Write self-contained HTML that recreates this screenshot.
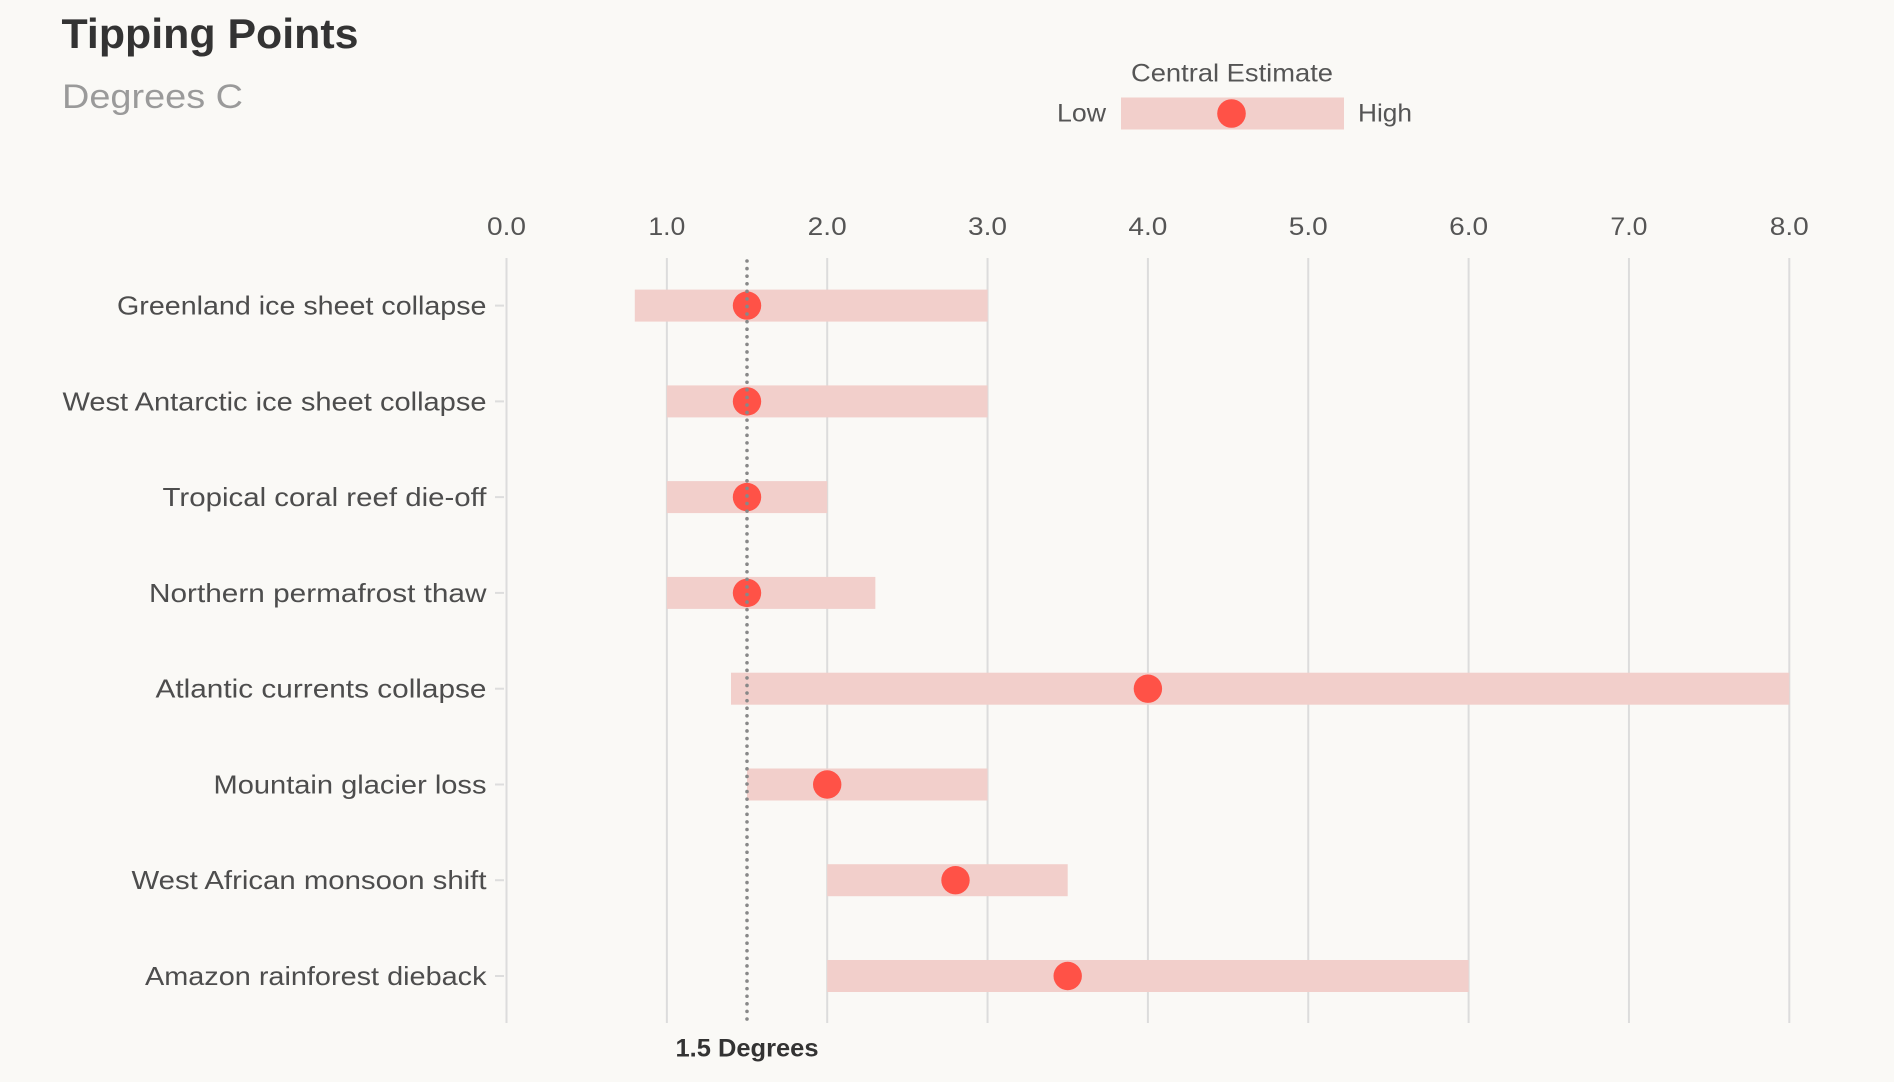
<!DOCTYPE html>
<html>
<head>
<meta charset="utf-8">
<style>
  html, body { margin: 0; padding: 0; background: #faf9f6; }
  svg { display: block; }
  text { font-family: "Liberation Sans", "DejaVu Sans", sans-serif; }
</style>
</head>
<body>
<svg width="1894" height="1082" viewBox="0 0 1894 1082" xmlns="http://www.w3.org/2000/svg">
  <rect x="0" y="0" width="1894" height="1082" fill="#faf9f6"/>

  <!-- Title -->
  <text x="61.5" y="48" font-size="42" font-weight="bold" fill="#333333" textLength="297" lengthAdjust="spacingAndGlyphs">Tipping Points</text>
  <text x="62" y="108" font-size="34" fill="#9a9a9a" textLength="181" lengthAdjust="spacingAndGlyphs">Degrees C</text>

  <!-- Legend -->
  <text x="1232" y="81.5" font-size="25" fill="#555555" text-anchor="middle" textLength="202" lengthAdjust="spacingAndGlyphs">Central Estimate</text>
  <rect x="1121" y="97.5" width="223" height="32" fill="#f2cfcb"/>
  <circle cx="1231.5" cy="113.5" r="14.3" fill="#ff5247"/>
  <text x="1057" y="121.5" font-size="25" fill="#555555" textLength="49" lengthAdjust="spacingAndGlyphs">Low</text>
  <text x="1358" y="121.5" font-size="25" fill="#555555" textLength="54" lengthAdjust="spacingAndGlyphs">High</text>

  <!-- Gridlines -->
  <g stroke="#dcdcdc" stroke-width="2">
    <line x1="506.5" y1="258" x2="506.5" y2="1023"/>
    <line x1="666.85" y1="258" x2="666.85" y2="1023"/>
    <line x1="827.2" y1="258" x2="827.2" y2="1023"/>
    <line x1="987.55" y1="258" x2="987.55" y2="1023"/>
    <line x1="1147.9" y1="258" x2="1147.9" y2="1023"/>
    <line x1="1308.25" y1="258" x2="1308.25" y2="1023"/>
    <line x1="1468.6" y1="258" x2="1468.6" y2="1023"/>
    <line x1="1628.95" y1="258" x2="1628.95" y2="1023"/>
    <line x1="1789.3" y1="258" x2="1789.3" y2="1023"/>
  </g>

  <!-- Tick labels -->
  <g font-size="25" fill="#555555" text-anchor="middle">
    <text x="506.5" y="235" textLength="39" lengthAdjust="spacingAndGlyphs">0.0</text>
    <text x="666.85" y="235" textLength="37" lengthAdjust="spacingAndGlyphs">1.0</text>
    <text x="827.2" y="235" textLength="39" lengthAdjust="spacingAndGlyphs">2.0</text>
    <text x="987.55" y="235" textLength="39" lengthAdjust="spacingAndGlyphs">3.0</text>
    <text x="1147.9" y="235" textLength="39" lengthAdjust="spacingAndGlyphs">4.0</text>
    <text x="1308.25" y="235" textLength="39" lengthAdjust="spacingAndGlyphs">5.0</text>
    <text x="1468.6" y="235" textLength="39" lengthAdjust="spacingAndGlyphs">6.0</text>
    <text x="1628.95" y="235" textLength="37" lengthAdjust="spacingAndGlyphs">7.0</text>
    <text x="1789.3" y="235" textLength="39" lengthAdjust="spacingAndGlyphs">8.0</text>
  </g>

  <!-- Row label ticks -->
  <g stroke="#dddddd" stroke-width="2">
    <line x1="495" y1="305.6" x2="504" y2="305.6"/>
    <line x1="495" y1="401.4" x2="504" y2="401.4"/>
    <line x1="495" y1="497.1" x2="504" y2="497.1"/>
    <line x1="495" y1="592.9" x2="504" y2="592.9"/>
    <line x1="495" y1="688.7" x2="504" y2="688.7"/>
    <line x1="495" y1="784.5" x2="504" y2="784.5"/>
    <line x1="495" y1="880.2" x2="504" y2="880.2"/>
    <line x1="495" y1="976" x2="504" y2="976"/>
  </g>

  <!-- Row labels -->
  <g font-size="26" fill="#4d4d4d" text-anchor="end">
    <text x="486.5" y="314.6" textLength="369.5" lengthAdjust="spacingAndGlyphs">Greenland ice sheet collapse</text>
    <text x="486.5" y="410.4" textLength="424" lengthAdjust="spacingAndGlyphs">West Antarctic ice sheet collapse</text>
    <text x="486.5" y="506.1" textLength="324" lengthAdjust="spacingAndGlyphs">Tropical coral reef die-off</text>
    <text x="486.5" y="601.9" textLength="337.5" lengthAdjust="spacingAndGlyphs">Northern permafrost thaw</text>
    <text x="486.5" y="697.7" textLength="331" lengthAdjust="spacingAndGlyphs">Atlantic currents collapse</text>
    <text x="486.5" y="793.5" textLength="273" lengthAdjust="spacingAndGlyphs">Mountain glacier loss</text>
    <text x="486.5" y="889.2" textLength="355" lengthAdjust="spacingAndGlyphs">West African monsoon shift</text>
    <text x="486.5" y="985" textLength="341.5" lengthAdjust="spacingAndGlyphs">Amazon rainforest dieback</text>
  </g>

  <!-- Range bars -->
  <g fill="#f2cfcb">
    <rect x="634.8" y="289.6" width="352.8" height="32"/>
    <rect x="666.85" y="385.4" width="320.7" height="32"/>
    <rect x="666.85" y="481.1" width="160.35" height="32"/>
    <rect x="666.85" y="576.9" width="208.5" height="32"/>
    <rect x="731" y="672.7" width="1058.3" height="32"/>
    <rect x="747" y="768.5" width="240.5" height="32"/>
    <rect x="827.2" y="864.2" width="240.5" height="32"/>
    <rect x="827.2" y="960" width="641.4" height="32"/>
  </g>

  <!-- Central estimate dots -->
  <g fill="#ff5247">
    <circle cx="747" cy="305.6" r="14.2"/>
    <circle cx="747" cy="401.4" r="14.2"/>
    <circle cx="747" cy="497.1" r="14.2"/>
    <circle cx="747" cy="592.9" r="14.2"/>
    <circle cx="1147.9" cy="688.7" r="14.2"/>
    <circle cx="827.2" cy="784.5" r="14.2"/>
    <circle cx="955.5" cy="880.2" r="14.2"/>
    <circle cx="1067.7" cy="976" r="14.2"/>
  </g>

  <!-- 1.5 degrees dotted line (on top, visible through dots) -->
  <line x1="747" y1="261" x2="747" y2="1019" stroke="#888888" stroke-width="3.6" stroke-linecap="round" stroke-dasharray="0 7.58"/>

  <!-- 1.5 Degrees label -->
  <text x="747" y="1056.5" font-size="25" font-weight="bold" fill="#333333" text-anchor="middle" textLength="143" lengthAdjust="spacingAndGlyphs">1.5 Degrees</text>
</svg>
</body>
</html>
